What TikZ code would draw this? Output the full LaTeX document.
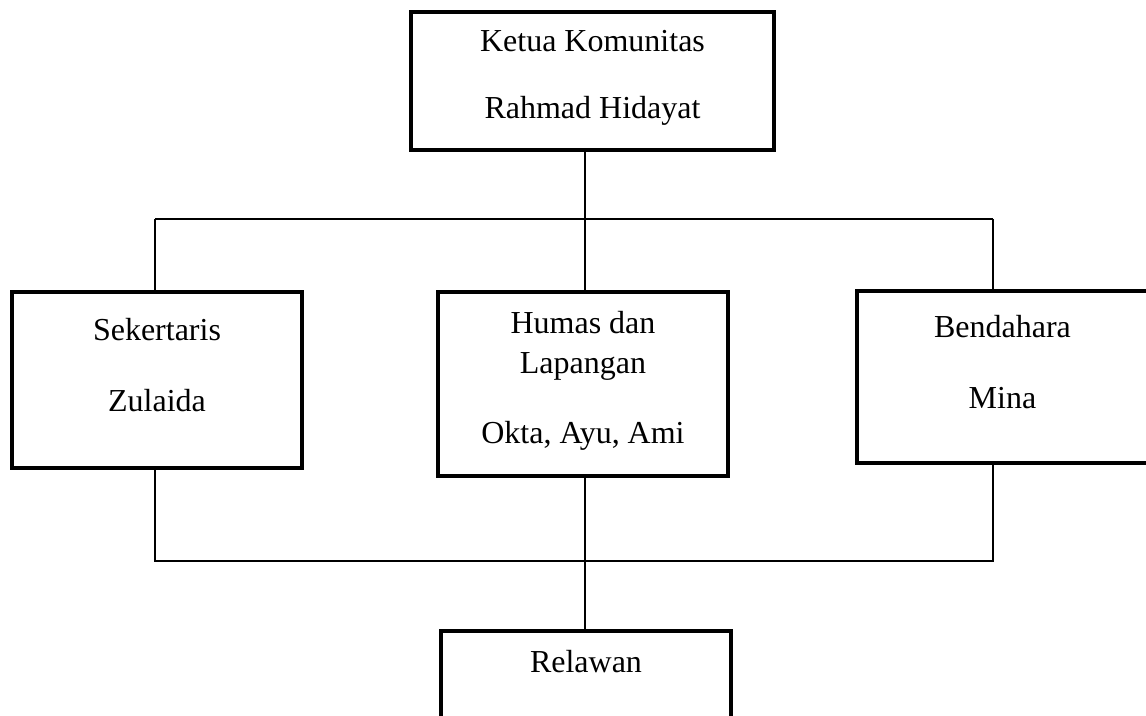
\documentclass[tikz,border=0pt]{standalone}
\usepackage{fontspec}
\setmainfont{Liberation Serif}

\begin{document}
\begin{tikzpicture}[x=0.5pt, y=-0.5pt,
    kotak/.style={draw, line width=2pt, inner sep=0pt, align=center, minimum width=145pt,
                  font=\fontsize{16}{20}\selectfont},
    garis/.style={line width=0.7pt}]
    \useasboundingbox (0,0) rectangle (1146,716);

    % Ketua
    \node[kotak, minimum width=181.5pt, minimum height=69pt, text depth=6.1pt] (ketua) at (592.5,81)
        {Ketua Komunitas\\[13.5pt]Rahmad Hidayat};

    % Pengurus
    \node[kotak, minimum height=88pt, text depth=15.1pt] (sekretaris) at (157,380)
        {Sekertaris\\[15.5pt]Zulaida};
    \node[kotak, minimum height=92pt, text depth=6.6pt] (humas) at (583,384)
        {Humas dan\\Lapangan\\[15pt]Okta, Ayu, Ami};
    \node[kotak, minimum width=145.5pt, minimum height=86pt, text depth=15.5pt] (bendahara) at (1002.5,377)
        {Bendahara\\[15.5pt]Mina};

    % Relawan
    \node[kotak, minimum height=85pt, text depth=55pt] (relawan) at (586,716) {Relawan};

    % Garis penghubung
    \coordinate (atas) at (585,219);
    \coordinate (atas kiri) at (155,219);
    \coordinate (atas kanan) at (993,219);
    \coordinate (bawah) at (585,561);
    \coordinate (bawah kiri) at (155,561);
    \coordinate (bawah kanan) at (993,561);

    \draw[garis] (ketua.south -| atas) -- (humas.north -| atas);
    \draw[garis] (atas kiri) -- (atas kanan);
    \draw[garis] (atas kiri) -- (atas kiri |- sekretaris.north);
    \draw[garis] (atas kanan) -- (atas kanan |- bendahara.north);
    \draw[garis] (sekretaris.south -| bawah kiri) -- (bawah kiri) -- (bawah kanan) -- (bendahara.south -| bawah kanan);
    \draw[garis] (humas.south -| bawah) -- (relawan.north -| bawah);
\end{tikzpicture}
\end{document}
